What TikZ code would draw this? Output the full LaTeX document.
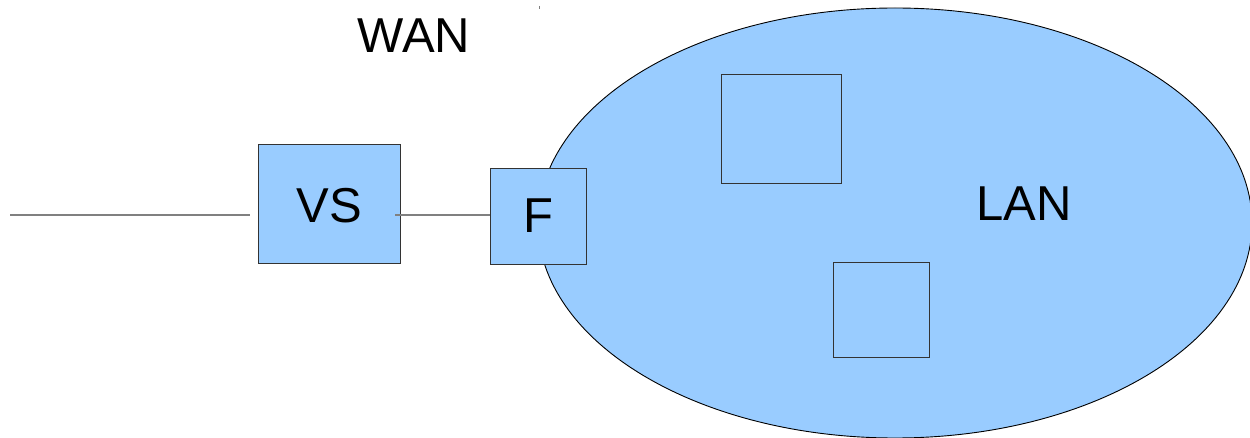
\documentclass[tikz,border=0pt]{standalone}
\usepackage{fontspec}
\setmainfont{Liberation Sans}
\usetikzlibrary{shapes.geometric}
\definecolor{lanblue}{HTML}{99CCFF}
\definecolor{wire}{HTML}{808080}
\begin{document}
\begin{tikzpicture}[x=1pt,y=-1pt,
  box/.style={draw=black!80,line width=0.9pt,fill=lanblue,inner sep=0pt},
  lbl/.style={font=\fontsize{49}{50}\selectfont,inner sep=0pt},
  wireline/.style={draw=wire,line width=1.2pt}]
\useasboundingbox (0,0) rectangle (1250,438);
\fill[white] (0,0) rectangle (1250,438);
% LAN ellipse
\node[draw=black,line width=0.9pt,fill=lanblue,ellipse,minimum width=714pt,minimum height=430pt,inner sep=0pt] (lan) at (895,223) {};
\node[lbl] (lantxt) at (1024,204) {LAN};
% WAN label
\node[lbl] (wan) at (414,36) {WAN};
% boxes
\node[box,minimum width=142pt,minimum height=119pt] (vs) at (329,203.5) {};
\node[lbl] (vstxt) at (329,206) {VS};
\node[box,minimum width=96pt,minimum height=96pt] (f) at (538,216) {};
\node[lbl] (ftxt) at (538,216) {F};
\node[box,minimum width=120pt,minimum height=109pt] (h1) at (781,128.5) {};
\node[box,minimum width=96pt,minimum height=95pt] (h2) at (881,309.5) {};
% wires
\coordinate (wanend) at (10,215);
\coordinate (vsin) at (250,215);
\coordinate (vsout) at (395,215);
\draw[wireline] (wanend) -- (vsin);
\draw[wireline] (vsout) -- (f.west |- vsout);
% small mark
\coordinate (m1) at (539,6);
\coordinate (m2) at (539,9);
\draw[draw=wire,line width=0.6pt] (m1) -- (m2);
\end{tikzpicture}
\end{document}
